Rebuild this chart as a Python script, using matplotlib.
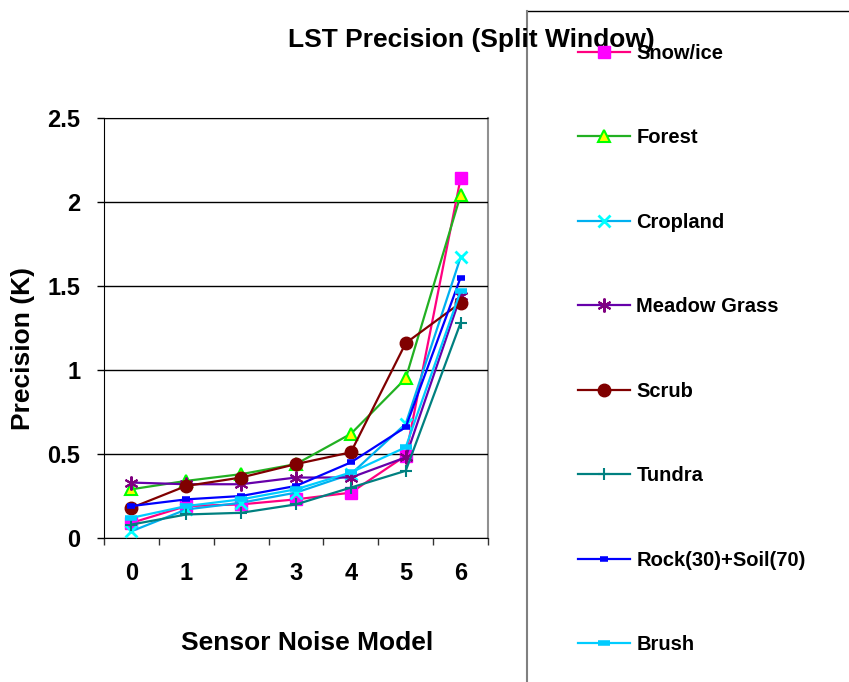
import matplotlib
matplotlib.use("Agg")
import matplotlib.pyplot as plt
from matplotlib.lines import Line2D

plt.rcParams['font.family'] = ['Liberation Sans', 'DejaVu Sans']
plt.rcParams['font.weight'] = 'bold'

categories = ["0", "1", "2", "3", "4", "5", "6"]
series_names = ["Snow/ice", "Forest", "Cropland", "Meadow Grass", "Scrub",
                "Tundra", "Rock(30)+Soil(70)", "Brush"]
snow = [0.09, 0.19, 0.20, 0.23, 0.27, 0.49, 2.14]
forest = [0.29, 0.34, 0.38, 0.44, 0.62, 0.95, 2.04]
cropland = [0.04, 0.17, 0.21, 0.27, 0.38, 0.68, 1.67]
meadow = [0.33, 0.32, 0.32, 0.36, 0.36, 0.48, 1.44]
scrub = [0.18, 0.31, 0.36, 0.44, 0.51, 1.16, 1.40]
tundra = [0.08, 0.14, 0.15, 0.20, 0.30, 0.40, 1.28]
rock = [0.19, 0.23, 0.25, 0.31, 0.45, 0.66, 1.55]
brush = [0.12, 0.19, 0.23, 0.29, 0.39, 0.54, 1.47]
yticks = [0, 0.5, 1, 1.5, 2, 2.5]
ytick_labels = ["0", "0.5", "1", "1.5", "2", "2.5"]

values = [snow, forest, cropland, meadow, scrub, tundra, rock, brush]
styles = [
    dict(color='#FF0080', marker='s', mfc='#FF00FF', mec='#FF00FF', ms=9),
    dict(color='#22B022', marker='^', mfc='#FFFF00', mec='#00FF00', ms=9, mew=1.5),
    dict(color='#00B0F0', marker='x', mfc='#00FFFF', mec='#00FFFF', ms=9, mew=2),
    dict(color='#6600AA', marker=(6, 2, 0), mfc='#800080', mec='#800080', ms=10, mew=1.5),
    dict(color='#800000', marker='o', mfc='#800000', mec='#800000', ms=9),
    dict(color='#008080', marker='+', mfc='#008080', mec='#008080', ms=9, mew=1.5),
    dict(color='#0000FF', marker='_', mfc='#0000FF', mec='#0000FF', ms=6, mew=4),
    dict(color='#00CCFF', marker='_', mfc='#00CCFF', mec='#00CCFF', ms=9, mew=4),
]

W, H = 849, 682
fig = plt.figure(figsize=(W / 100, H / 100), dpi=100)
ax = fig.add_axes([104 / W, 1 - 538 / H, (488 - 104) / W, (538 - 118) / H])

x = list(range(len(categories)))
handles = []
for name, vals, st in zip(series_names, values, styles):
    h, = ax.plot(x, vals, lw=1.6, label=name, clip_on=False, **st)
    handles.append(h)

ax.set_xlim(-0.5, len(categories) - 0.5)
ax.set_ylim(0, 2.5)
ax.set_yticks(yticks)
ax.set_yticklabels(ytick_labels)
ax.set_xticks(x)
ax.set_xticklabels(categories)
ax.set_xticks([i - 0.5 for i in range(len(categories) + 1)], minor=True)
ax.tick_params(axis='x', which='major', length=0, pad=17, labelsize=17)
ax.tick_params(axis='x', which='minor', length=5, width=1, color='#333333')
ax.tick_params(axis='y', length=5, width=1, pad=12, labelsize=17)
for lab in ax.get_xticklabels() + ax.get_yticklabels():
    lab.set_fontweight('bold')

ax.grid(axis='y', color='black', lw=1)
ax.set_axisbelow(True)
ax.spines['left'].set_color('black')
ax.spines['bottom'].set_color('black')
ax.spines['top'].set_color('#404040')
ax.spines['right'].set_color('#909090')
ax.spines['right'].set_linewidth(1.5)
for s in ax.spines.values():
    s.set_zorder(0.5)

fig.text(23 / W, 1 - 349 / H, "Precision (K)", rotation=90, ha='center',
         va='center', fontsize=19, fontweight='bold')
fig.text(307 / W, 1 - 643 / H, "Sensor Noise Model", ha='center',
         va='center', fontsize=19, fontweight='bold')
fig.text(471 / W, 1 - 40 / H, "LST Precision (Split Window)", ha='center',
         va='center', fontsize=19, fontweight='bold')

# legend frame (top and left edges)
fig.add_artist(Line2D([527 / W, 1], [1 - 10.5 / H, 1 - 10.5 / H], color='black', lw=1))
fig.add_artist(Line2D([527 / W, 527 / W], [0, 1 - 10.5 / H], color='#808080', lw=1.5))

leg = fig.legend(handles, series_names, loc='upper left',
                 bbox_to_anchor=(578 / W, 1 - 44 / H), frameon=False,
                 borderpad=0, borderaxespad=0, handlelength=2.6,
                 handletextpad=0.3, labelspacing=3.25,
                 prop=dict(weight='bold', size=14.5))
leg.set_zorder(10)

fig.savefig("out.png", dpi=100)
